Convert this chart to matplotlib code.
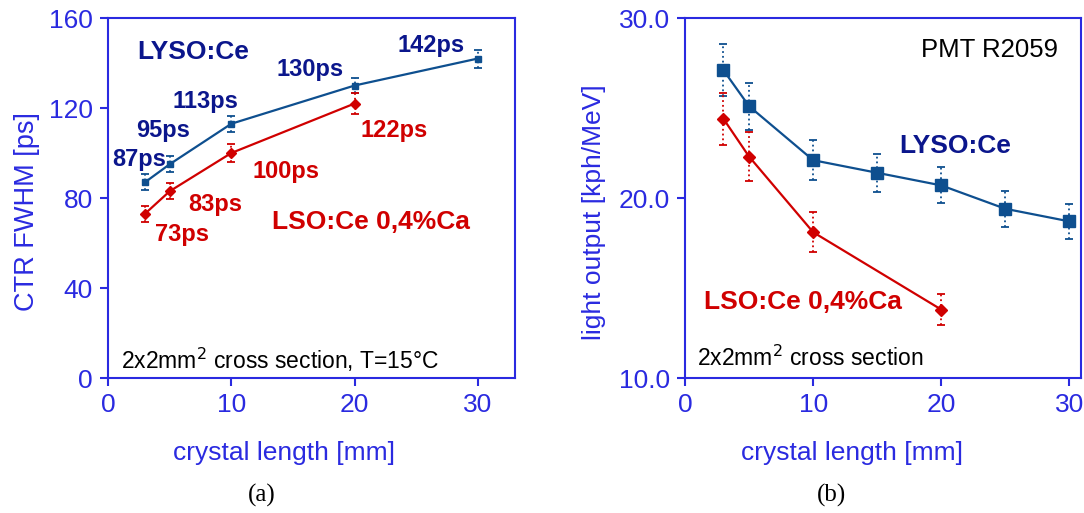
import matplotlib
matplotlib.use("Agg")
import matplotlib.pyplot as plt

# ---- data ----
ctr_lyso_x = [3, 5, 10, 20, 30]
ctr_lyso_y = [87, 95, 113, 130, 142]
ctr_lyso_err = [3.5, 3.5, 3.5, 3.5, 4]
ctr_lso_x = [3, 5, 10, 20]
ctr_lso_y = [73, 83, 100, 122]
ctr_lso_err = [3.5, 3.5, 4, 4.5]
ctr_lyso_labels = ["87ps", "95ps", "113ps", "130ps", "142ps"]
ctr_lso_labels = ["73ps", "83ps", "100ps", "122ps"]

lo_lyso_x = [3, 5, 10, 15, 20, 25, 30]
lo_lyso_y = [27.1, 25.1, 22.1, 21.4, 20.7, 19.4, 18.7]
lo_lyso_err = [1.45, 1.3, 1.1, 1.05, 1.0, 1.0, 0.95]
lo_lso_x = [3, 5, 10, 20]
lo_lso_y = [24.4, 22.3, 18.1, 13.8]
lo_lso_err = [1.45, 1.35, 1.1, 0.85]

left_yticks = [0, 40, 80, 120, 160]
right_yticks = [10.0, 20.0, 30.0]
xticks = [0, 10, 20, 30]

AX = "#2a2ae0"
BLUE = "#0e4f8f"
NAVY = "#0b168c"
RED = "#d00000"

plt.rcParams['font.family'] = ['Liberation Sans', 'DejaVu Sans']

fig = plt.figure(figsize=(10.84, 5.13), dpi=100)
ax1 = fig.add_axes([108/1084, 1-378/513, (515-108)/1084, 360/513])
ax2 = fig.add_axes([685/1084, 1-378/513, (1081-685)/1084, 360/513])


def style(ax):
    for s in ax.spines.values():
        s.set_color(AX)
        s.set_linewidth(1.5)
    ax.tick_params(colors=AX, labelcolor=AX, labelsize=19, direction='out',
                   length=6, width=1.5, pad=5)


def eb(ax, x, y, e, color, marker, ms):
    ax.plot(x, y, color=color, lw=1.6, marker=marker, ms=ms, zorder=3)
    c = ax.errorbar(x, y, yerr=e, fmt='none', ecolor=color, elinewidth=1.3,
                    capsize=3, capthick=1.3, zorder=2)
    for lc in c[2]:
        lc.set_linestyle(':')


# ---- left panel ----
style(ax1)
eb(ax1, ctr_lyso_x, ctr_lyso_y, ctr_lyso_err, BLUE, 's', 5)
eb(ax1, ctr_lso_x, ctr_lso_y, ctr_lso_err, RED, 'D', 5)
ax1.set_xlim(0, 33)
ax1.set_ylim(0, 160)
ax1.set_xticks(xticks)
ax1.set_yticks(left_yticks)
ax1.set_xlabel("crystal length [mm]", color=AX, fontsize=19, labelpad=17)
ax1.set_ylabel("CTR FWHM [ps]", color=AX, fontsize=19.5, labelpad=6)
ax1.xaxis.label.set_x(0.432)
ax1.yaxis.label.set_y(0.461)

lyso_pos = [(2.5, 97), (4.5, 110), (7.9, 123), (16.4, 137), (26.2, 147.6)]
for (px, py), t in zip(lyso_pos, ctr_lyso_labels):
    ax1.text(px, py, t, color=NAVY, fontsize=17, fontweight='bold',
             ha='center', va='center')
lso_pos = [(6.0, 63.6), (8.7, 77), (14.4, 91.6), (23.2, 110)]
for (px, py), t in zip(lso_pos, ctr_lso_labels):
    ax1.text(px, py, t, color=RED, fontsize=17, fontweight='bold',
             ha='center', va='center')
ax1.text(2.35, 145, "LYSO:Ce", color=NAVY, fontsize=19, fontweight='bold',
         ha='left', va='center')
ax1.text(13.3, 69.3, "LSO:Ce 0,4%Ca", color=RED, fontsize=19, fontweight='bold',
         ha='left', va='center')
ax1.text(1.05, 8, r"2x2mm$^{2}$ cross section, T=15°C", color='black',
         fontsize=16.5, ha='left', va='center')

# ---- right panel ----
style(ax2)
eb(ax2, lo_lyso_x, lo_lyso_y, lo_lyso_err, BLUE, 's', 8)
eb(ax2, lo_lso_x, lo_lso_y, lo_lso_err, RED, 'D', 6)
ax2.set_xlim(0, 30.9)
ax2.set_ylim(10, 30)
ax2.set_xticks(xticks)
ax2.set_yticks(right_yticks)
ax2.set_yticklabels([f"{v:.1f}" for v in right_yticks])
ax2.set_xlabel("crystal length [mm]", color=AX, fontsize=19, labelpad=17)
ax2.set_ylabel("light output [kph/MeV]", color=AX, fontsize=19, labelpad=9)
ax2.xaxis.label.set_x(0.422)
ax2.yaxis.label.set_y(0.461)
ax2.text(16.7, 22.9, "LYSO:Ce", color=NAVY, fontsize=19, fontweight='bold',
         ha='left', va='center')
ax2.text(1.5, 14.2, "LSO:Ce 0,4%Ca", color=RED, fontsize=19, fontweight='bold',
         ha='left', va='center')
ax2.text(29.1, 28.2, "PMT R2059", color='black', fontsize=18.5,
         ha='right', va='center')
ax2.text(0.94, 11.1, r"2x2mm$^{2}$ cross section", color='black',
         fontsize=16.5, ha='left', va='center')

fig.text(262/1084, 1-495/513, "(a)", fontsize=18, family=['Liberation Serif', 'DejaVu Serif'],
         ha='center', va='center')
fig.text(832/1084, 1-495/513, "(b)", fontsize=18, family=['Liberation Serif', 'DejaVu Serif'],
         ha='center', va='center')

fig.savefig("out.png", dpi=100)
